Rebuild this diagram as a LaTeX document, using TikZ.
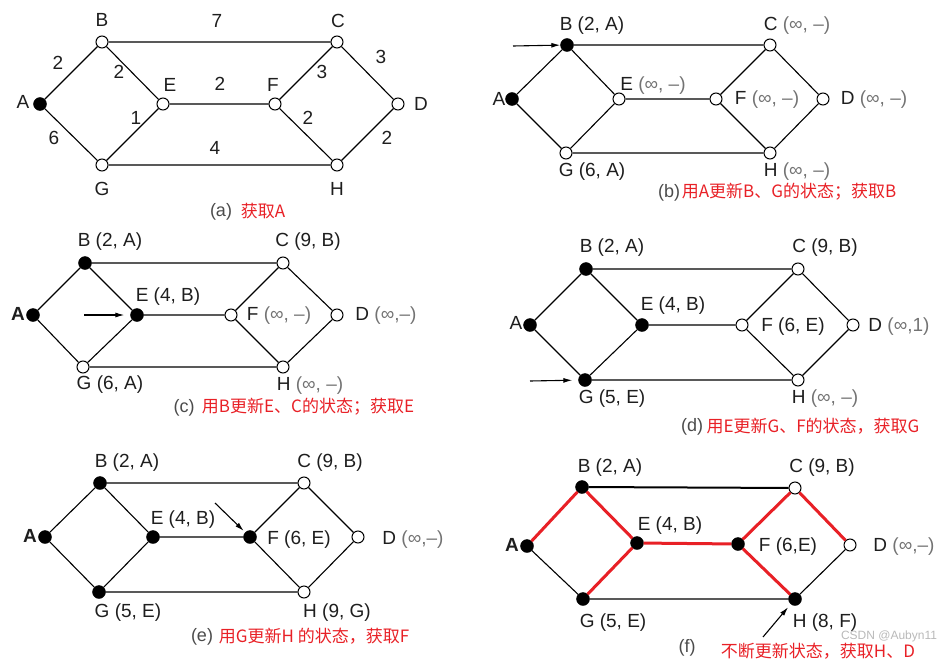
\documentclass[tikz,border=0pt]{standalone}
\usepackage{fontspec}
\setmainfont{Liberation Sans}
\newfontfamily\cjk{Noto Sans CJK SC}
\usetikzlibrary{arrows.meta}
\definecolor{capred}{RGB}{232,32,38}
\definecolor{txt}{RGB}{30,30,30}
\definecolor{lgray}{RGB}{115,115,115}
\definecolor{wmark}{RGB}{185,185,185}
\newcommand{\grytxt}[1]{\textcolor{lgray}{#1}}
\begin{document}
\begin{tikzpicture}[x=1pt,y=-1pt,
  opennode/.style={circle,draw=black,fill=white,line width=1pt,inner sep=0pt,minimum size=12pt},
  donenode/.style={circle,draw=black,fill=black,inner sep=0pt,minimum size=13pt},
  ln/.style={line width=1.1pt},
  bl/.style={line width=2pt},
  rl/.style={line width=3pt,draw=capred},
  lbl/.style={inner sep=0pt,text=txt,font=\fontsize{19}{22}\selectfont},
  blbl/.style={inner sep=0pt,text=txt,font=\fontsize{19}{22}\selectfont\bfseries},
  captxt/.style={inner sep=0pt,text=txt!80,font=\fontsize{18}{21}\selectfont},
  rcap/.style={inner sep=0pt,text=capred,font=\cjk\fontsize{17}{20}\selectfont},
  wm/.style={inner sep=0pt,text=wmark,font=\fontsize{12}{14}\selectfont},
  arr/.style={line width=1.1pt,-{Latex[length=9pt,width=5pt]}}
]
\useasboundingbox (0,0) rectangle (942,661);

% ---------------- (a) ----------------
\node[donenode] (aA) at (40,104) {};
\node[opennode] (aB) at (102,42) {};
\node[opennode] (aC) at (337,42) {};
\node[opennode] (aD) at (398,104) {};
\node[opennode] (aE) at (163,104) {};
\node[opennode] (aF) at (275,104) {};
\node[opennode] (aG) at (102,165) {};
\node[opennode] (aH) at (337,165) {};
\draw[ln] (aA)--(aB) (aA)--(aG) (aB)--(aC) (aB)--(aE) (aE)--(aG) (aE)--(aF)
          (aF)--(aC) (aF)--(aH) (aC)--(aD) (aD)--(aH) (aG)--(aH);
\node[lbl] (aAl) at (23,102) {A};
\node[lbl] (aBl) at (102,20) {B};
\node[lbl] (aCl) at (338,21) {C};
\node[lbl] (aDl) at (421,104) {D};
\node[lbl] (aEl) at (170,85) {E};
\node[lbl] (aFl) at (273,85) {F};
\node[lbl] (aGl) at (102,189) {G};
\node[lbl] (aHl) at (337,189) {H};
\node[lbl] (aw1) at (217,21) {7};
\node[lbl] (aw2) at (58,63) {2};
\node[lbl] (aw3) at (119,72) {2};
\node[lbl] (aw4) at (322,72) {3};
\node[lbl] (aw5) at (381,57) {3};
\node[lbl] (aw6) at (220,84) {2};
\node[lbl] (aw7) at (136,118) {1};
\node[lbl] (aw8) at (308,118) {2};
\node[lbl] (aw9) at (387,138) {2};
\node[lbl] (aw10) at (54,138) {6};
\node[lbl] (aw11) at (215,148) {4};
\node[captxt] (acap) at (221,212) {(a)};
\node[rcap] (arcap) at (263,211) {获取A};

% ---------------- (b) ----------------
\node[donenode] (bA) at (512,99) {};
\node[donenode] (bB) at (567,45) {};
\node[opennode] (bC) at (770,45) {};
\node[opennode] (bD) at (823,99) {};
\node[opennode] (bE) at (619,99) {};
\node[opennode] (bF) at (716,99) {};
\node[opennode] (bG) at (566,153) {};
\node[opennode] (bH) at (770,153) {};
\draw[ln] (bA)--(bB) (bA)--(bG) (bB)--(bC) (bB)--(bE) (bE)--(bG) (bE)--(bF)
          (bF)--(bC) (bF)--(bH) (bC)--(bD) (bD)--(bH) (bG)--(bH);
\node[lbl] (bAl) at (499,99) {A};
\node[lbl] (bBl) at (592,26) {B (2, A)};
\node[lbl] (bCl) at (797,26) {C \grytxt{(∞, –)}};
\node[lbl] (bEl) at (653,86) {E \grytxt{(∞, –)}};
\node[lbl] (bFl) at (767,100) {F \grytxt{(∞, –)}};
\node[lbl] (bDl) at (874,100) {D \grytxt{(∞, –)}};
\node[lbl] (bGl) at (592,172) {G (6, A)};
\node[lbl] (bHl) at (797,172) {H \grytxt{(∞, –)}};
\coordinate (bArr) at (513,46);
\draw[arr] (bArr) -- (bB);
\node[captxt] (bcap) at (669,193) {(b)};
\node[rcap] (brcap) at (789,192) {用A更新B、G的状态；获取B};

% ---------------- (c) ----------------
\node[donenode] (cA) at (33,315) {};
\node[donenode] (cB) at (85,263) {};
\node[opennode] (cC) at (283,263) {};
\node[opennode] (cD) at (337,315) {};
\node[donenode] (cE) at (137,315) {};
\node[opennode] (cF) at (231,315) {};
\node[opennode] (cG) at (83,367) {};
\node[opennode] (cH) at (283,367) {};
\draw[ln] (cA)--(cB) (cA)--(cG) (cB)--(cC) (cB)--(cE) (cE)--(cG) (cE)--(cF)
          (cF)--(cC) (cF)--(cH) (cC)--(cD) (cD)--(cH) (cG)--(cH);
\node[blbl] (cAl) at (18,314) {A};
\node[lbl] (cBl) at (110,242) {B (2, A)};
\node[lbl] (cCl) at (308,242) {C (9, B)};
\node[lbl] (cEl) at (168,297) {E (4, B)};
\node[lbl] (cFl) at (279,316) {F \grytxt{(∞, –)}};
\node[lbl] (cDl) at (386,316) {D \grytxt{(∞,–)}};
\node[lbl] (cGl) at (110,385) {G (6, A)};
\node[lbl] (cHl) at (310,386) {H \grytxt{(∞, –)}};
\coordinate (cArr) at (84,315);
\draw[arr,shorten >=6pt] (cArr) -- (cE);
\node[captxt] (ccap) at (184,408) {(c)};
\node[rcap] (crcap) at (308,407) {用B更新E、C的状态；获取E};

% ---------------- (d) ----------------
\node[donenode] (dA) at (530,325) {};
\node[donenode] (dB) at (586,269) {};
\node[opennode] (dC) at (798,269) {};
\node[opennode] (dD) at (853,325) {};
\node[donenode] (dE) at (642,325) {};
\node[opennode] (dF) at (742,325) {};
\node[donenode] (dG) at (585,380) {};
\node[opennode] (dH) at (798,380) {};
\draw[ln] (dA)--(dB) (dA)--(dG) (dB)--(dC) (dB)--(dE) (dE)--(dG) (dE)--(dF)
          (dF)--(dC) (dF)--(dH) (dC)--(dD) (dD)--(dH) (dG)--(dH);
\node[lbl] (dAl) at (516,323) {A};
\node[lbl] (dBl) at (612,248) {B (2, A)};
\node[lbl] (dCl) at (825,248) {C (9, B)};
\node[lbl] (dEl) at (673,306) {E (4, B)};
\node[lbl] (dFl) at (793,327) {F (6, E)};
\node[lbl] (dDl) at (899,327) {D \grytxt{(∞,1)}};
\node[lbl] (dGl) at (612,399) {G (5, E)};
\node[lbl] (dHl) at (825,399) {H \grytxt{(∞, –)}};
\coordinate (dArr) at (530,381);
\draw[arr,shorten >=6pt] (dArr) -- (dG);
\node[captxt] (dcap) at (692,427) {(d)};
\node[rcap] (drcap) at (813,426) {用E更新G、F的状态，获取G};

% ---------------- (e) ----------------
\node[donenode] (eA) at (45,537) {};
\node[donenode] (eB) at (100,483) {};
\node[opennode] (eC) at (304,483) {};
\node[opennode] (eD) at (358,537) {};
\node[donenode] (eE) at (153,537) {};
\node[donenode] (eF) at (250,537) {};
\node[donenode] (eG) at (99,592) {};
\node[opennode] (eH) at (304,592) {};
\draw[ln] (eA)--(eB) (eA)--(eG) (eB)--(eC) (eB)--(eE) (eE)--(eG) (eE)--(eF)
          (eF)--(eC) (eF)--(eH) (eC)--(eD) (eD)--(eH) (eG)--(eH);
\node[blbl] (eAl) at (30,536) {A};
\node[lbl] (eBl) at (127,463) {B (2, A)};
\node[lbl] (eCl) at (330,463) {C (9, B)};
\node[lbl] (eEl) at (183,520) {E (4, B)};
\node[lbl] (eFl) at (299,540) {F (6, E)};
\node[lbl] (eDl) at (413,540) {D \grytxt{(∞,–)}};
\node[lbl] (eGl) at (128,613) {G (5, E)};
\node[lbl] (eHl) at (337,613) {H (9, G)};
\coordinate (eArr) at (215,503);
\draw[arr,shorten >=2pt] (eArr) -- (eF);
\node[captxt] (ecap) at (202,637) {(e)};
\node[rcap] (ercap) at (314,636) {用G更新H 的状态，获取F};

% ---------------- (f) ----------------
\node[donenode] (fA) at (527,546) {};
\node[donenode] (fB) at (582,487) {};
\node[opennode] (fC) at (795,488) {};
\node[opennode] (fD) at (850,545) {};
\node[donenode] (fE) at (637,543) {};
\node[donenode] (fF) at (738,544) {};
\node[donenode] (fG) at (583,599) {};
\node[donenode] (fH) at (795,599) {};
\draw[ln] (fA)--(fG) (fG)--(fH) (fD)--(fH);
\draw[bl] (fB)--(fC);
\draw[rl] (fA)--(fB) (fB)--(fE) (fE)--(fG) (fE)--(fF) (fF)--(fC) (fC)--(fD) (fF)--(fH);
\node[blbl] (fAl) at (512,545) {A};
\node[lbl] (fBl) at (610,468) {B (2, A)};
\node[lbl] (fCl) at (822,468) {C (9, B)};
\node[lbl] (fEl) at (670,526) {E (4, B)};
\node[lbl] (fFl) at (788,547) {F (6,E)};
\node[lbl] (fDl) at (904,547) {D \grytxt{(∞,–)}};
\node[lbl] (fGl) at (613,623) {G (5, E)};
\node[lbl] (fHl) at (825,623) {H (8, F)};
\coordinate (fArr) at (763,637);
\draw[arr,shorten >=4pt] (fArr) -- (fH);
\node[captxt] (fcap) at (687,648) {(f)};
\node[wm] (fwm) at (889,636) {CSDN @Aubyn11};
\node[rcap] (frcap) at (818,651) {不断更新状态，获取H、D};
\end{tikzpicture}
\end{document}
